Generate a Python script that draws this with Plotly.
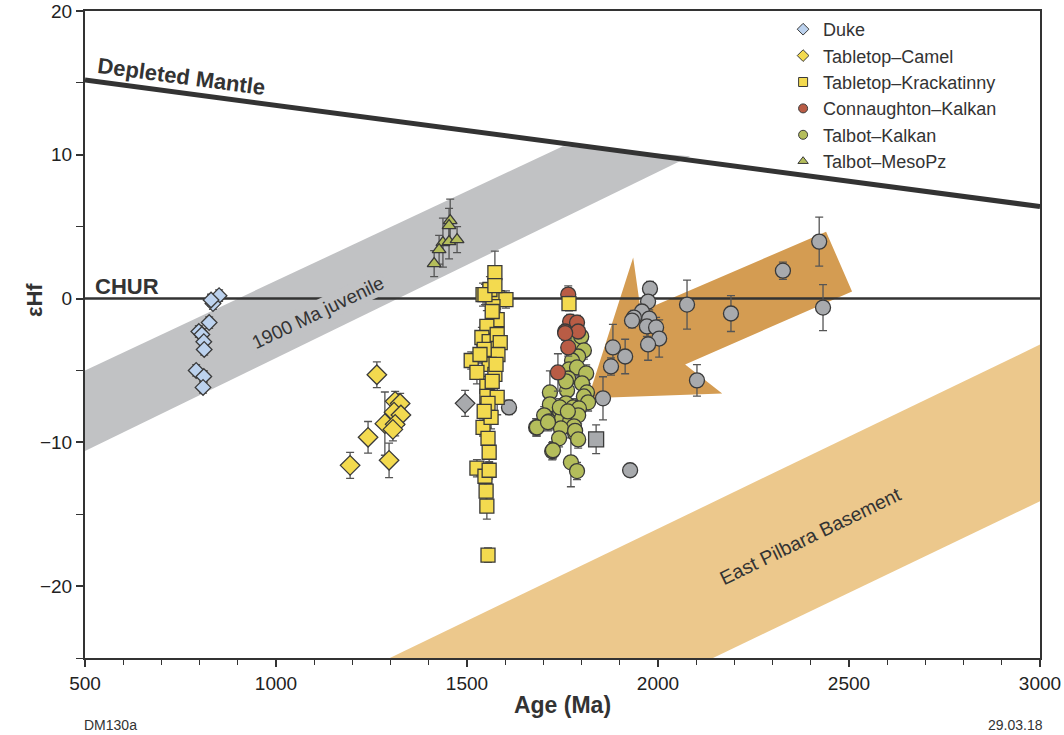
import plotly.graph_objects as go

# ---------------- reference geometry (data units) ----------------
dm_age = [500, 3000]
dm_ehf = [15.2, 6.4]
chur_age = [500, 3000]
chur_ehf = [0, 0]

juv_age = [500, 1751, 2084, 500]
juv_ehf = [-5.0, 10.6, 9.9, -10.6]

pilbara_age = [1298, 3000, 3000, 2144]
pilbara_ehf = [-25, -3.2, -14.1, -25]

arrow_age = [1935, 1955, 2440, 2508, 2071, 2168, 1817]
arrow_ehf = [2.85, -0.9, 4.65, 0.49, -4.58, -6.6, -6.94]

# ---------------- samples ----------------
duke_age = [851, 835, 830, 825, 798, 806, 811, 812, 791, 811, 809]
duke_ehf = [0.2, -0.35, -0.1, -1.67, -2.29, -2.5, -3.0, -3.54, -5.0, -5.42, -6.18]
duke_err = [0.4, 0.4, 0.4, 0.4, 0.4, 0.4, 0.4, 0.4, 0.4, 0.4, 0.4]

camel_age = [1264, 1241, 1194, 1285, 1296, 1312, 1325, 1309, 1327, 1312, 1306]
camel_ehf = [-5.3, -9.65, -11.6, -8.7, -11.25, -7.15, -7.3, -7.9, -8.1, -8.75, -9.1]
camel_err = [0.9, 1.1, 0.9, 2.2, 1.2, 0.7, 0.7, 0.8, 0.7, 0.8, 0.8]

krack_age = [1573, 1579, 1602, 1542, 1560, 1568, 1579, 1552, 1539, 1558, 1579, 1587,
             1558, 1581, 1511, 1558, 1526, 1573, 1552, 1552, 1579, 1555, 1542, 1555,
             1558, 1526, 1547, 1558, 1550, 1552, 1555, 1547, 1573, 1767, 1566, 1545,
             1576, 1534, 1566, 1563, 1545]
krack_ehf = [1.8, 0.07, -0.07, 0.28, 0.63, -0.56, -1.46, -1.94, -2.71, -2.99, -2.5, -3.06,
             -4.03, -3.89, -4.31, -4.58, -5.14, -5.28, -6.11, -6.81, -6.88, -7.29, -8.96, -9.72,
             -10.69, -11.8, -12.36, -11.94, -13.4, -14.44, -17.85, 0.28, 0.9, -0.35, -0.9, -3.54,
             -4.58, -3.89, -5.76, -8.26, -7.85]
krack_err = [1.5, 0.8, 0.6, 0.8, 0.9, 0.7, 0.8, 1.1, 0.7, 0.8, 0.7, 0.6,
             0.8, 1.4, 0.6, 0.7, 0.8, 1.2, 0.7, 0.8, 1.2, 0.8, 0.6, 0.7,
             0.7, 0.6, 0.7, 0.6, 0.7, 0.9, 0.5, 0.7, 0.9, 0.5, 0.7, 0.6,
             0.7, 0.6, 0.7, 0.8, 0.7]

conn_age = [1765, 1770, 1788, 1757, 1791, 1765, 1738, 1757]
conn_ehf = [0.28, -1.6, -1.67, -2.29, -2.29, -3.4, -5.14, -2.4]
conn_err = [0.6, 0.5, 0.5, 0.5, 0.5, 0.6, 1.3, 0.5]

talk_age = [1778, 1799, 1806, 1791, 1775, 1767, 1788, 1812, 1765, 1801, 1814, 1762,
            1806, 1717, 1717, 1759, 1817, 1778, 1793, 1702, 1744, 1715, 1749, 1770,
            1791, 1681, 1780, 1746, 1783, 1741, 1723, 1772, 1788, 1683, 1712, 1725,
            1759, 1743, 1764, 1783, 1791]
talk_ehf = [-3.06, -2.64, -3.61, -4.03, -4.31, -4.93, -4.79, -5.21, -5.56, -5.9, -6.53, -6.39,
            -6.81, -6.53, -7.36, -7.29, -7.22, -7.57, -7.64, -8.12, -7.92, -8.54, -8.33, -8.54,
            -8.12, -8.96, -8.89, -9.03, -9.38, -9.72, -10.62, -11.39, -12.0, -8.96, -8.6, -10.55,
            -5.76, -7.57, -7.85, -9.2, -9.8]
talk_err = [0.6, 0.6, 0.6, 0.6, 0.6, 0.6, 0.6, 0.6, 0.6, 0.6, 0.6, 0.6,
            0.6, 1.5, 0.6, 0.6, 0.6, 0.6, 0.6, 0.6, 0.6, 0.6, 0.6, 0.6,
            0.6, 0.6, 0.6, 0.6, 0.6, 0.6, 0.6, 1.7, 0.6, 0.6, 0.6, 0.6,
            0.6, 0.6, 0.6, 0.6, 0.6]

meso_age = [1456, 1453, 1437, 1453, 1474, 1427, 1414]
meso_ehf = [5.42, 5.07, 3.89, 3.96, 4.1, 3.4, 2.43]
meso_err = [1.5, 1.2, 1.7, 1.2, 0.9, 1.0, 0.9]

other_age = [1495, 1610, 1838, 1979, 1974, 1958, 1937, 1932, 1977, 1971, 1995, 2003,
             1974, 1882, 1914, 1877, 1856, 2076, 1927, 2191, 2327, 2422, 2432, 2102]
other_ehf = [-7.29, -7.57, -9.79, 0.69, -0.21, -0.9, -1.32, -1.53, -1.39, -1.94, -2.01, -2.78,
             -3.19, -3.4, -4.03, -4.72, -6.94, -0.42, -11.94, -1.04, 1.94, 3.96, -0.63, -5.69]
other_err = [0.9, 0.5, 1.0, 0.5, 0.5, 0.5, 0.5, 0.5, 0.6, 0.7, 0.7, 1.3,
             1.1, 1.6, 1.2, 0.6, 1.5, 1.7, 0.3, 1.25, 0.6, 1.7, 1.6, 1.1]
other_symbol = ["diamond", "circle", "square"] + ["circle"] * 21

legend_names = ["Duke", "Tabletop\u2013Camel", "Tabletop\u2013Krackatinny",
                "Connaughton\u2013Kalkan", "Talbot\u2013Kalkan", "Talbot\u2013MesoPz"]
legend_symbols = ["diamond", "diamond", "square", "circle", "circle", "triangle-up"]
legend_colors = ["#bcd2ee", "#f3da4f", "#f3da4f", "#b95c45", "#b4bd5b", "#b4bd5b"]

# ---------------- styles ----------------
DARK = "#333333"
ERR = "#555555"
FONT = "Liberation Sans, Arial, sans-serif"

fig = go.Figure()

# bands
fig.add_trace(go.Scatter(x=juv_age, y=juv_ehf, fill="toself", mode="lines",
                         line=dict(width=0), fillcolor="#c1c2c4",
                         showlegend=False, hoverinfo="skip"))
fig.add_trace(go.Scatter(x=pilbara_age, y=pilbara_ehf, fill="toself", mode="lines",
                         line=dict(width=0), fillcolor="#ecc88c",
                         showlegend=False, hoverinfo="skip"))
fig.add_trace(go.Scatter(x=arrow_age, y=arrow_ehf, fill="toself", mode="lines",
                         line=dict(width=0), fillcolor="#d49c52",
                         showlegend=False, hoverinfo="skip"))
# reference lines
fig.add_trace(go.Scatter(x=chur_age, y=chur_ehf, mode="lines",
                         line=dict(color=DARK, width=2.5),
                         showlegend=False, hoverinfo="skip"))
fig.add_trace(go.Scatter(x=dm_age, y=dm_ehf, mode="lines",
                         line=dict(color=DARK, width=5),
                         showlegend=False, hoverinfo="skip"))


def pts(x, y, err, symbol, color, size):
    return go.Scatter(
        x=x, y=y, mode="markers", showlegend=False,
        marker=dict(symbol=symbol, color=color, size=size,
                    line=dict(color="#3a3a3a", width=1.3)),
        error_y=dict(type="data", array=err, visible=True,
                     color=ERR, thickness=1.3, width=4),
    )


fig.add_trace(pts(other_age, other_ehf, other_err, other_symbol, "#a8aaad", 15))
fig.add_trace(pts(duke_age, duke_ehf, duke_err, "diamond", "#bcd2ee", 12))
fig.add_trace(pts(camel_age, camel_ehf, camel_err, "diamond", "#f3da4f", 15))
fig.add_trace(pts(talk_age, talk_ehf, talk_err, "circle", "#b4bd5b", 15))
fig.add_trace(pts(conn_age, conn_ehf, conn_err, "circle", "#b95c45", 15))
fig.add_trace(pts(krack_age, krack_ehf, krack_err, "square", "#f3da4f", 14))
fig.add_trace(pts(meso_age, meso_ehf, meso_err, "triangle-up", "#b4bd5b", 12))

# legend entries (small symbols, as in the reference legend)
for name, sym, col in zip(legend_names, legend_symbols, legend_colors):
    fig.add_trace(go.Scatter(x=[None], y=[None], mode="markers", name=name,
                             marker=dict(symbol=sym, color=col, size=9,
                                         line=dict(color="#3a3a3a", width=1))))

W, H = 1064, 735
L, R, T, B = 85, 24, 11, 77
pw, ph = W - L - R, H - T - B

annotations = [
    dict(x=181, y=77, text="<b>Depleted Mantle</b>", textangle=7.6,
         font=dict(size=22, color=DARK, family=FONT)),
    dict(x=127, y=286, text="<b>CHUR</b>",
         font=dict(size=22, color=DARK, family=FONT)),
    dict(x=318, y=312, text="1900 Ma juvenile", textangle=-25.6, bgcolor="#c1c2c4",
         font=dict(size=19, color=DARK, family=FONT)),
    dict(x=810, y=536, text="East Pilbara Basement", textangle=-25.8,
         font=dict(size=19.5, color=DARK, family=FONT)),
    dict(x=110, y=725, text="DM130a",
         font=dict(size=14, color=DARK, family=FONT)),
    dict(x=1015, y=725, text="29.03.18",
         font=dict(size=14, color=DARK, family=FONT)),
    dict(x=34, y=300, text="<b>\u03b5Hf</b>", textangle=-90,
         font=dict(size=22, color=DARK, family=FONT)),
]
for a in annotations:
    a["x"] = (a["x"] - L) / pw
    a["y"] = (H - B - a["y"]) / ph
    a["xref"] = "paper"
    a["yref"] = "paper"
    a["xanchor"] = "center"
    a["yanchor"] = "middle"
    a["showarrow"] = False

fig.update_layout(
    width=W, height=H,
    margin=dict(l=L, r=R, t=T, b=B, autoexpand=False),
    paper_bgcolor="white", plot_bgcolor="white",
    font=dict(family=FONT, color=DARK),
    annotations=annotations,
    showlegend=True,
    legend=dict(x=0.731, y=1.0, xanchor="left", yanchor="top",
                bgcolor="rgba(0,0,0,0)", font=dict(size=18, color=DARK, family=FONT),
                itemsizing="trace", tracegroupgap=0, itemwidth=30,
                traceorder="normal"),
    xaxis=dict(range=[500, 3000], tickvals=[500, 1000, 1500, 2000, 2500, 3000],
               automargin=False,
               ticks="outside", ticklen=7, tickwidth=1.5, tickcolor=DARK,
               minor=dict(dtick=100, ticks="outside", ticklen=5, tickcolor=DARK, tickwidth=1.2),
               showline=True, linecolor=DARK, linewidth=2, mirror=True,
               showgrid=False, zeroline=False,
               tickfont=dict(size=19, color="#222", family=FONT),
               title=dict(text="<b>Age (Ma)</b>", font=dict(size=23, color=DARK, family=FONT),
                          standoff=4)),
    yaxis=dict(range=[-25, 20], tickvals=[-20, -10, 0, 10, 20],
               automargin=False,
               ticks="outside", ticklen=7, tickwidth=1.5, tickcolor=DARK,
               minor=dict(dtick=5, ticks="outside", ticklen=7, tickcolor=DARK, tickwidth=1.2),
               showline=True, linecolor=DARK, linewidth=2, mirror=True,
               showgrid=False, zeroline=False,
               tickfont=dict(size=19, color="#222", family=FONT)),
)

# the page's default 8 px body margin would shift the figure; remove it
fig.write_html("out.html", config={"displayModeBar": False},
               post_script="document.body.style.margin='0';")
